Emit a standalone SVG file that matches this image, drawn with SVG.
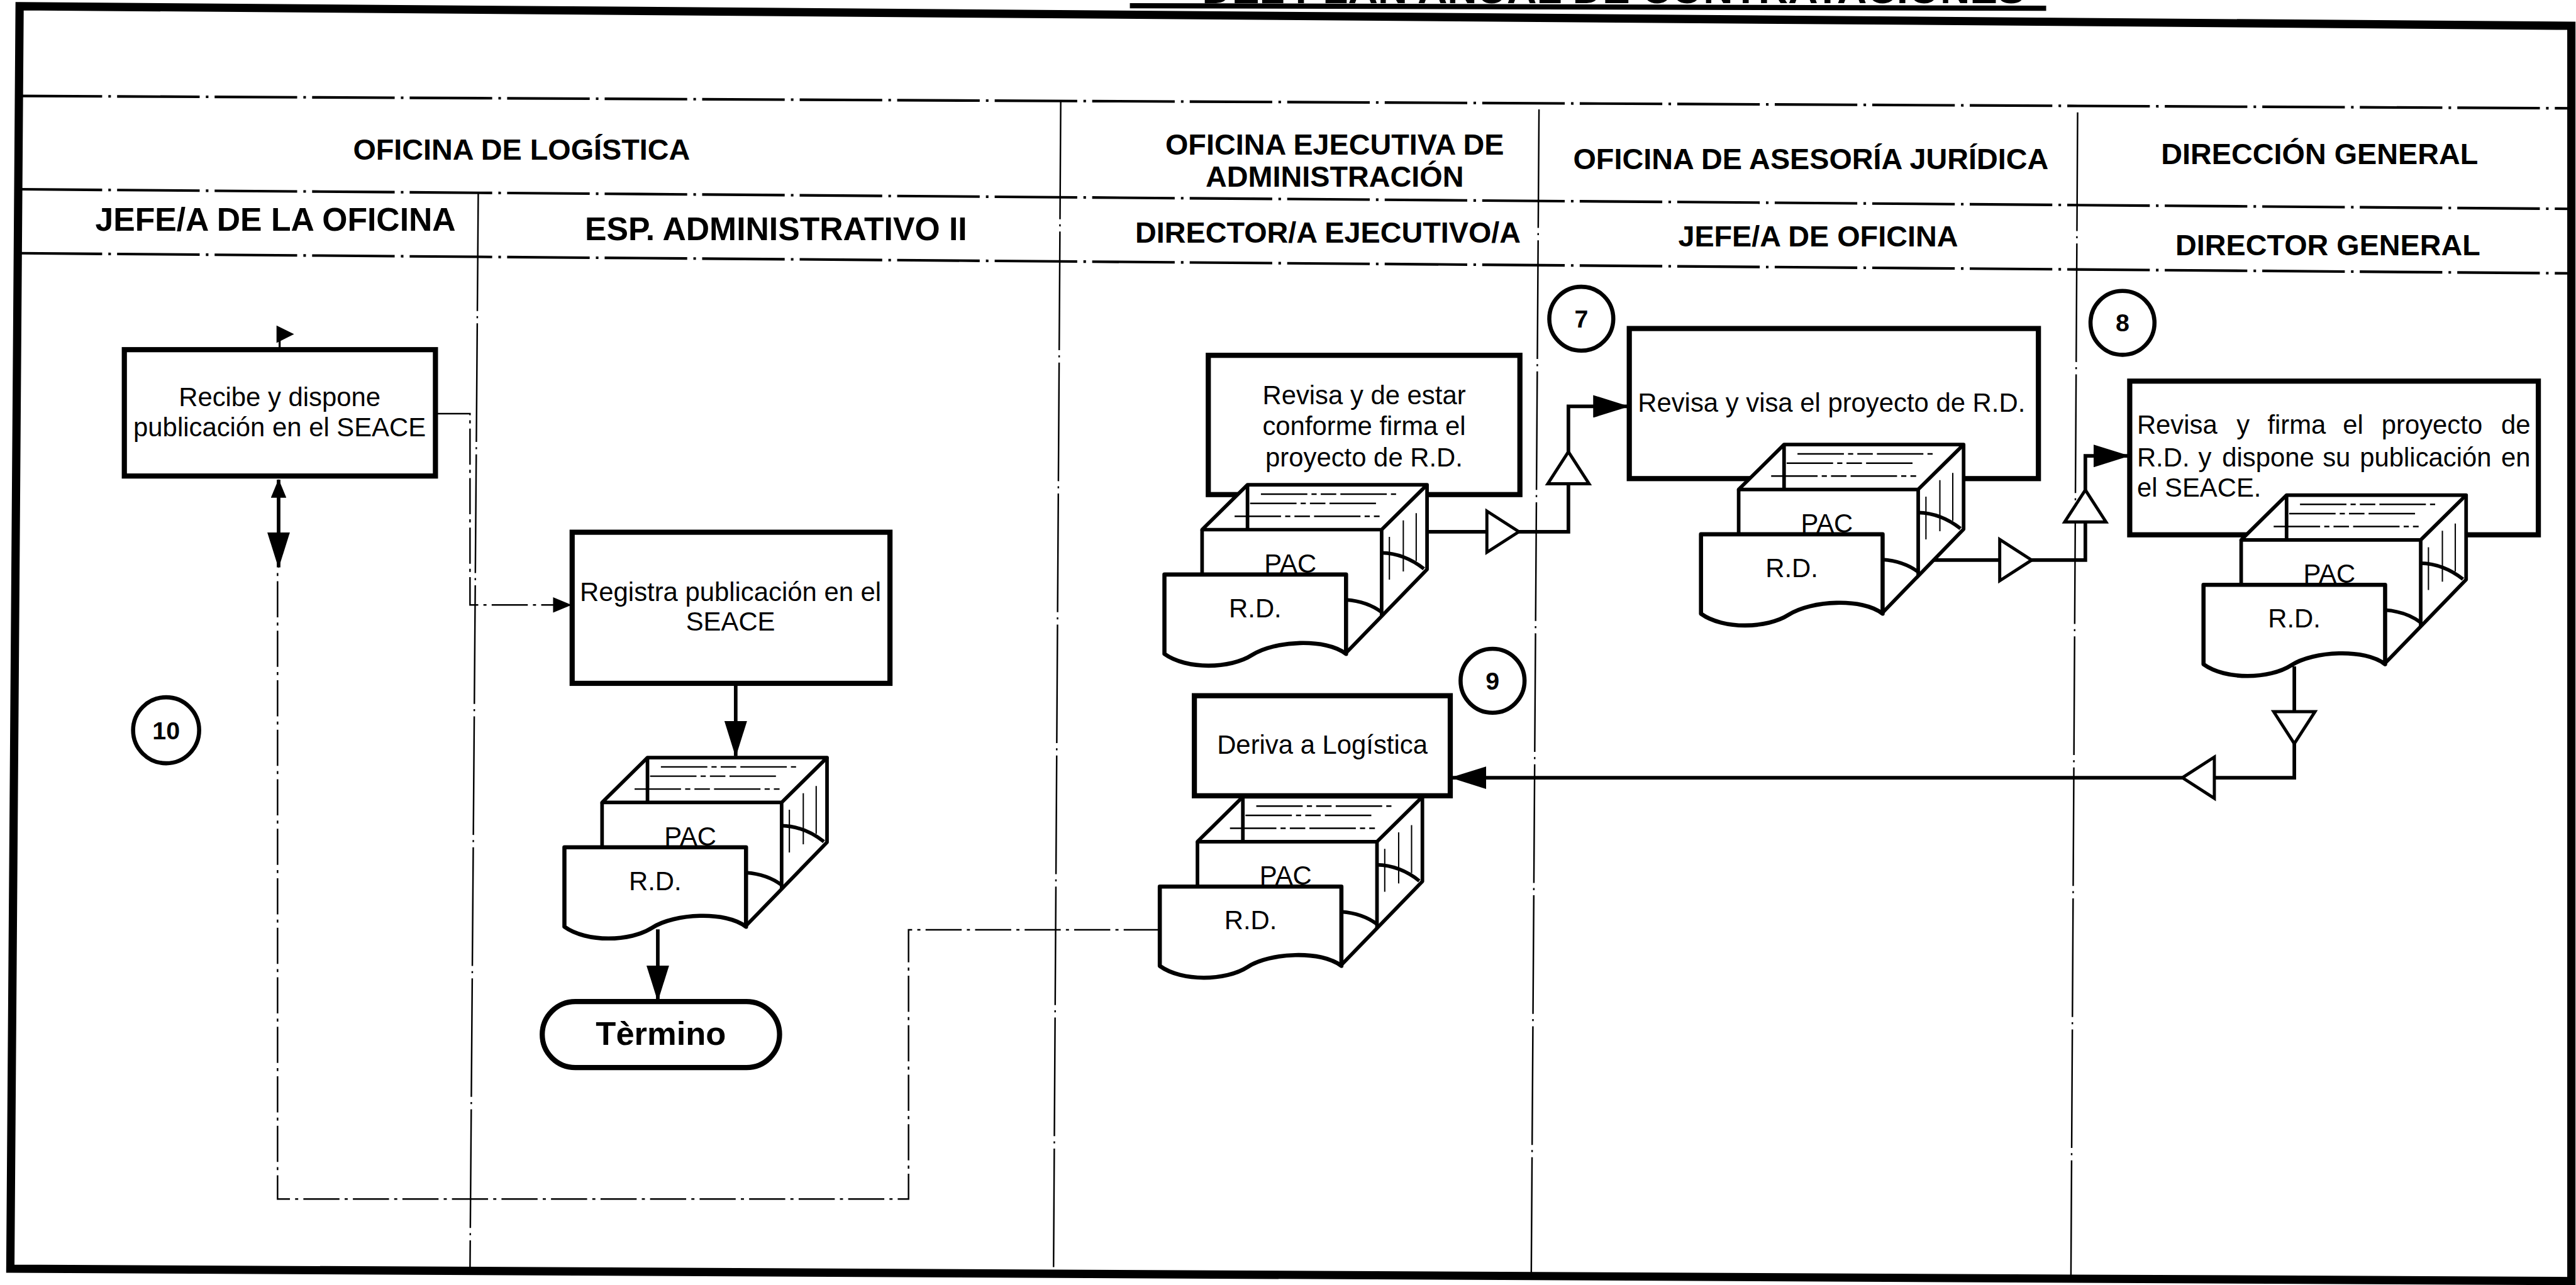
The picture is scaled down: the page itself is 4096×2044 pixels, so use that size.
<svg xmlns="http://www.w3.org/2000/svg" width="4096" height="2044" viewBox="0 0 4096 2044">
<defs>
<style>
 text { font-family: "Liberation Sans", Arial, sans-serif; fill: #000; }
 .title { font-weight: bold; font-size: 80px; text-anchor: end; }
 .hd { font-weight: bold; font-size: 57px; text-anchor: middle; }
 .hd2 { font-weight: bold; font-size: 63px; text-anchor: middle; }
 .tx { font-size: 51px; text-anchor: middle; }
 .txl { font-size: 51px; }
 .nm { font-weight: bold; font-size: 48px; text-anchor: middle; }
 .tm { font-weight: bold; font-size: 64px; text-anchor: middle; }
 .frame { fill: none; stroke: #000; stroke-width: 16; stroke-linejoin: miter; }
 .uline { fill: none; stroke: #000; stroke-width: 10; }
 .hline { fill: none; stroke: #000; stroke-width: 5; stroke-dasharray: 160 12 5 12; }
 .vline { fill: none; stroke: #000; stroke-width: 3; stroke-dasharray: 230 10 4 10; }
 .box { fill: #fff; stroke: #000; stroke-width: 10; }
 .edge { fill: none; stroke: #000; stroke-width: 7; stroke-linejoin: round; }
 .fillw { fill: #fff; stroke: none; }
 .hair { fill: none; stroke: #000; stroke-width: 2.5; }
 .paper { fill: none; stroke: #000; stroke-width: 3; stroke-dasharray: 90 8 10 8 30 8; }
 .doc { fill: #fff; stroke: #000; stroke-width: 8; stroke-linejoin: round; }
 .flow { fill: none; stroke: #000; stroke-width: 7; stroke-linejoin: miter; }
 .link { fill: none; stroke: #000; stroke-width: 3; stroke-dasharray: 70 10 6 10; }
 .open { fill: #fff; stroke: #000; stroke-width: 6; stroke-linejoin: miter; }
 .ring { fill: #fff; stroke: #000; stroke-width: 8; }
 .term { fill: #fff; stroke: #000; stroke-width: 10; }
</style>
<marker id="ah" markerUnits="userSpaceOnUse" viewBox="0 0 70 44" markerWidth="70" markerHeight="44" refX="68" refY="22" orient="auto">
 <path d="M0,0 L70,22 L0,44 Z" fill="#000"/>
</marker>
<marker id="ahs" markerUnits="userSpaceOnUse" viewBox="0 0 36 30" markerWidth="36" markerHeight="30" refX="35" refY="15" orient="auto-start-reverse">
 <path d="M0,0 L36,15 L0,30 Z" fill="#000"/>
</marker>
<!-- open triangle used as a transfer mark on flow lines (points along +x) -->
<path id="tri" class="open" d="M0,-40 L62,0 L0,40 Z"/>
<!-- 3D archive tray, origin at front-top-left corner -->
<g id="tray">
 <path class="fillw" d="M0,0 L88,-87 L436,-87 L436,77 L277,241 L0,241 Z"/>
 <path class="edge" d="M0,0 L88,-87 L436,-87 L348,0 Z"/>
 <path class="edge" d="M88,-87 V0"/>
 <path class="edge" d="M0,0 V90"/>
 <path class="edge" d="M348,0 V168"/>
 <path class="edge" d="M436,-87 V77 L277,241"/>
 <path class="edge" d="M348,45 Q392,46 430,76"/>
 <path class="edge" d="M279,136 Q320,139 348,160"/>
 <path class="hair" d="M363,14 V97 M390,-18 V81 M415,-32 V61"/>
 <path class="paper" d="M114,-69 H377 M93,-51 H344 M63,-26 H344"/>
</g>
<!-- document sheet with wavy bottom -->
<path id="rd" class="doc" d="M-73,87 H279 V241 C240,210 140,215 97,243 C55,270 -30,272 -73,241 Z"/>
</defs>

<rect x="0" y="0" width="4096" height="2044" fill="#fff"/>

<g transform="scale(0.82035)">
 <!-- heading strip -->
 <g id="title">
  <text class="title" x="3925" y="6">DEL PLAN ANUAL DE CONTRATACIONES</text>
  <path class="uline" d="M2190,11 L3966,16"/>
 </g>

 <!-- outer frame and swimlane grid -->
 <g id="lanes">
  <path class="frame" d="M38,12 L4984,50 L4984,2484 L20,2460 Z"/>
  <path class="hline" d="M38,186 L4984,210"/>
  <path class="hline" d="M38,367 L4984,405"/>
  <path class="hline" d="M38,491 L4984,530"/>
  <path class="vline" d="M927,373 L911,2462"/>
  <path class="vline" d="M2056,195 L2042,2468"/>
  <path class="vline" d="M2983,212 L2968,2474"/>
  <path class="vline" d="M4027,218 L4014,2478"/>

  <text class="hd" x="1011" y="310">OFICINA DE LOGÍSTICA</text>
  <text class="hd" x="2587" y="300">OFICINA EJECUTIVA DE</text>
  <text class="hd" x="2587" y="362">ADMINISTRACIÓN</text>
  <text class="hd" x="3510" y="328">OFICINA DE ASESORÍA JURÍDICA</text>
  <text class="hd" x="4496" y="318">DIRECCIÓN GENERAL</text>

  <text class="hd2" x="534" y="447">JEFE/A DE LA OFICINA</text>
  <text class="hd2" x="1504" y="466">ESP. ADMINISTRATIVO II</text>
  <text class="hd" x="2574" y="470">DIRECTOR/A EJECUTIVO/A</text>
  <text class="hd" x="3524" y="478">JEFE/A DE OFICINA</text>
  <text class="hd" x="4512" y="495">DIRECTOR GENERAL</text>
 </g>

 <!-- connectors -->
 <g id="connectors">
  <!-- entry mark above the first step -->
  <path d="M536,631 L570,648 L536,665 Z" fill="#000"/>
  <path class="flow" d="M542,660 V678" style="stroke-width:4"/>
  <!-- return loop from Deriva a Logística -->
  <path class="link" d="M2248,1803 H1761 V2325 H538 V1102"/>
  <path class="flow" d="M540,930 V1100" marker-start="url(#ahs)" marker-end="url(#ah)"/>
  <!-- step A to step B -->
  <path class="link" d="M844,802 H911 V1173 H1107" marker-end="url(#ahs)"/>
  <!-- step B to tray -->
  <path class="flow" d="M1426,1325 V1466" marker-end="url(#ah)"/>
  <!-- tray to end -->
  <path class="flow" d="M1275,1802 V1940" marker-end="url(#ah)"/>
  <!-- Ejecutiva to Asesoría -->
  <path class="flow" d="M2764,1031 H3040 V788 H3156" marker-end="url(#ah)"/>
  <use href="#tri" transform="translate(2882,1031)"/>
  <use href="#tri" transform="translate(3040,938) rotate(-90)"/>
  <!-- Asesoría to Dirección -->
  <path class="flow" d="M3745,1086 H4042 V884 H4126" marker-end="url(#ah)"/>
  <use href="#tri" transform="translate(3876,1086)"/>
  <use href="#tri" transform="translate(4042,1012) rotate(-90)"/>
  <!-- Dirección back to Ejecutiva -->
  <path class="flow" d="M4447,1292 V1508 H2813" marker-end="url(#ah)"/>
  <use href="#tri" transform="translate(4447,1380) rotate(90)"/>
  <use href="#tri" transform="translate(4292,1508) rotate(180)"/>
 </g>

 <!-- process steps -->
 <g id="step-recibe">
  <rect class="box" x="241" y="678" width="603" height="245"/>
  <text class="tx" x="542" y="788">Recibe y dispone</text>
  <text class="tx" x="542" y="846">publicación en el SEACE</text>
 </g>

 <g id="step-registra">
  <rect class="box" x="1109" y="1032" width="616" height="293"/>
  <text class="tx" x="1416" y="1165">Registra publicación en el</text>
  <text class="tx" x="1416" y="1223">SEACE</text>
 </g>

 <g id="docs-registra" transform="translate(1167,1556)">
  <use href="#tray"/>
  <text class="tx" x="171" y="83">PAC</text>
  <use href="#rd"/>
  <text class="tx" x="103" y="170">R.D.</text>
 </g>

 <g id="end-termino">
  <rect class="term" x="1051" y="1942" width="460" height="128" rx="64" ry="64"/>
  <text class="tm" x="1281" y="2026">Tèrmino</text>
 </g>

 <g id="step-firma-ejecutiva">
  <rect class="box" x="2342" y="689" width="604" height="270"/>
  <text class="tx" x="2644" y="784">Revisa y de estar</text>
  <text class="tx" x="2644" y="844">conforme firma el</text>
  <text class="tx" x="2644" y="904">proyecto de R.D.</text>
 </g>

 <g id="docs-ejecutiva" transform="translate(2330,1027)">
  <use href="#tray"/>
  <text class="tx" x="171" y="83">PAC</text>
  <use href="#rd"/>
  <text class="tx" x="103" y="170">R.D.</text>
 </g>

 <g id="step-visa">
  <rect class="box" x="3158" y="637" width="793" height="291"/>
  <text class="tx" x="3550" y="799">Revisa y visa el proyecto de R.D.</text>
 </g>

 <g id="docs-asesoria" transform="translate(3370,949)">
  <use href="#tray"/>
  <text class="tx" x="171" y="83">PAC</text>
  <use href="#rd"/>
  <text class="tx" x="103" y="170">R.D.</text>
 </g>

 <g id="step-firma-direccion">
  <rect class="box" x="4128" y="739" width="792" height="298"/>
  <text class="txl" y="841"><tspan x="4142">Revisa</tspan><tspan x="4335">y</tspan><tspan x="4395">firma</tspan><tspan x="4541">el</tspan><tspan x="4616">proyecto</tspan><tspan x="4848">de</tspan></text>
  <text class="txl" y="904"><tspan x="4142">R.D.</tspan><tspan x="4261">y</tspan><tspan x="4307">dispone</tspan><tspan x="4502">su</tspan><tspan x="4574">publicación</tspan><tspan x="4848">en</tspan></text>
  <text class="txl" x="4142" y="963">el SEACE.</text>
 </g>

 <g id="docs-direccion" transform="translate(4344,1047)">
  <use href="#tray"/>
  <text class="tx" x="171" y="83">PAC</text>
  <use href="#rd"/>
  <text class="tx" x="103" y="170">R.D.</text>
 </g>

 <g id="step-deriva">
  <rect class="box" x="2315" y="1349" width="496" height="194"/>
  <text class="tx" x="2563" y="1462">Deriva a Logística</text>
 </g>

 <g id="docs-deriva" transform="translate(2321,1632)">
  <use href="#tray"/>
  <text class="tx" x="171" y="83">PAC</text>
  <use href="#rd"/>
  <text class="tx" x="103" y="170">R.D.</text>
 </g>

 <!-- step numbers -->
 <g id="num-7"><circle class="ring" cx="3065" cy="618" r="62"/><text class="nm" x="3065" y="635">7</text></g>
 <g id="num-8"><circle class="ring" cx="4114" cy="626" r="62"/><text class="nm" x="4114" y="643">8</text></g>
 <g id="num-9"><circle class="ring" cx="2893" cy="1320" r="62"/><text class="nm" x="2893" y="1337">9</text></g>
 <g id="num-10"><circle class="ring" cx="322" cy="1416" r="64"/><text class="nm" x="322" y="1433">10</text></g>
</g>
</svg>
